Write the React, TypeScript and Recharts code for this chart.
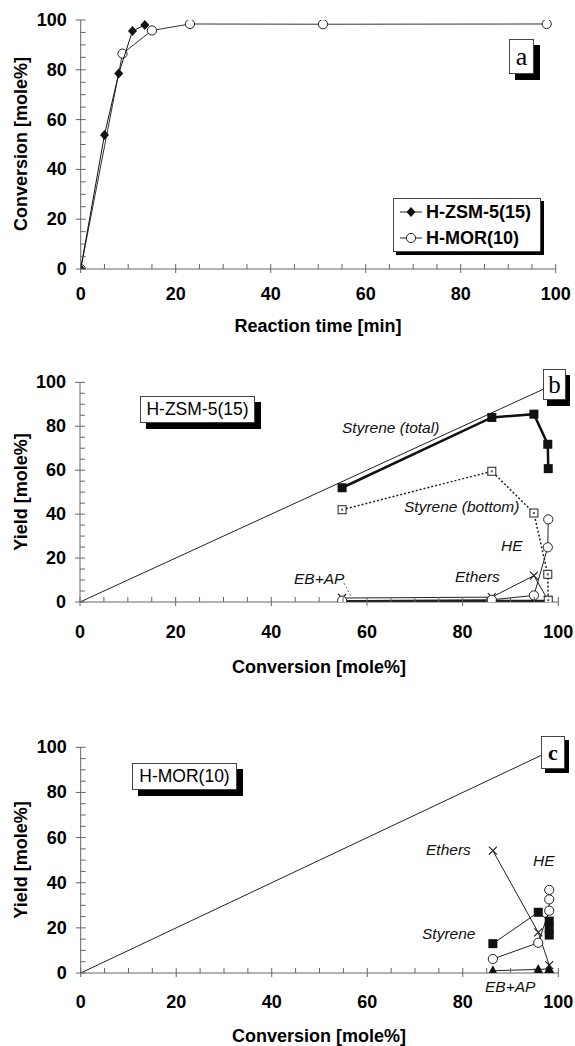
import React from "react";
import { ScatterChart, Scatter, XAxis, YAxis, ReferenceLine } from "recharts";

const SANS = '"Liberation Sans", Arial, Helvetica, sans-serif';
const SERIF = '"Liberation Serif", "Times New Roman", serif';
const AXIS = "#666";
const INK = "#111";

// (a) conversion vs reaction time
const timeZsm = [0, 5.0, 8.0, 10.9, 13.5];
const convZsm = [0, 53.8, 78.5, 95.6, 98.0];
const timeMor = [0, 8.8, 15.0, 23.0, 51.0, 98.1];
const convMor = [0, 86.5, 95.8, 98.4, 98.3, 98.4];

// (b) H-ZSM-5(15): yields vs conversion
const convB = [54.8, 86.1, 94.9, 97.8, 97.9];
const styreneTotalB = [52.0, 84.0, 85.5, 71.8, 60.7];
const styreneBottomB = [42.0, 59.5, 40.5, 12.6, 0.8];
const heB = [0.6, 1.0, 3.0, 24.9, 37.6];
const ethersB = [1.8, 2.2, 12.0, 1.0, 0.6];
const ebapB = [0.3, 0.4, 0.4, 0.5, 0.5];

// (c) H-MOR(10): yields vs conversion
const convC = [86.3, 95.8, 98.1, 98.1, 98.1];
const styreneC = [13.0, 26.9, 23.0, 19.8, 16.8];
const heC = [6.2, 13.4, 27.6, 32.6, 36.8];
const ethersC = [54.2, 18.0, 3.5];
const ebapC = [1.0, 1.6, 1.8];

const axisTicks = [0, 5, 10, 15, 20, 25, 30, 35, 40, 45, 50, 55, 60, 65, 70, 75, 80, 85, 90, 95, 100];
const diagonal = [0, 97];
const ebapLeaderX = [55.2, 56.7];
const ebapLeaderY = [8.6, 2.4];

const pts = (xs: number[], ys: number[]) => ys.map((y, i) => ({ x: xs[i], y }));

// markers
const Diamond = ({ cx, cy }: any) => (
  <path d={`M${cx},${cy - 5}L${cx + 4.5},${cy}L${cx},${cy + 5}L${cx - 4.5},${cy}Z`} fill={INK} />
);
const OpenCircle = ({ cx, cy }: any) => (
  <circle cx={cx} cy={cy} r={4.6} fill="#fff" stroke="#222" strokeWidth={1} />
);
const FilledSquare = ({ cx, cy }: any) => (
  <rect x={cx - 4.5} y={cy - 4.5} width={9} height={9} fill={INK} />
);
const OpenSquare = ({ cx, cy }: any) => (
  <g>
    <rect x={cx - 4} y={cy - 4} width={8} height={8} fill="#fff" stroke="#222" strokeWidth={1} />
    <rect x={cx - 1} y={cy - 1} width={2} height={2} fill="#555" />
  </g>
);
const Cross = ({ cx, cy }: any) => (
  <path
    d={`M${cx - 4},${cy - 4}L${cx + 4},${cy + 4}M${cx + 4},${cy - 4}L${cx - 4},${cy + 4}`}
    stroke="#222"
    strokeWidth={1.2}
  />
);
const Triangle = ({ cx, cy }: any) => (
  <path d={`M${cx},${cy - 5.5}L${cx + 5},${cy + 4}L${cx - 5},${cy + 4}Z`} fill={INK} />
);

// ticks: minor every 5, labels every 20
const XTick = ({ x, y, payload, gap }: any) => {
  const v = payload.value;
  const major = v % 20 === 0;
  return (
    <g>
      <line x1={x} x2={x} y1={y - 5} y2={major ? y + 4 : y} stroke={AXIS} />
      {major && (
        <text x={x} y={y + gap} textAnchor="middle" dominantBaseline="central" fill="#000"
          style={{ fontFamily: SANS, fontWeight: 700, fontSize: 18 }}>
          {v}
        </text>
      )}
    </g>
  );
};

const YTick = ({ x, y, payload }: any) => {
  const v = payload.value;
  const major = v % 20 === 0;
  return (
    <g>
      <line x1={major ? x - 5 : x} x2={x + 5} y1={y} y2={y} stroke={AXIS} />
      {major && (
        <text x={x - 14} y={y} textAnchor="end" dominantBaseline="central" fill="#000"
          style={{ fontFamily: SANS, fontWeight: 700, fontSize: 18 }}>
          {v}
        </text>
      )}
    </g>
  );
};

function Axes({ gap }: { gap: number }) {
  return [
    <XAxis key="x" dataKey="x" type="number" domain={[0, 100]} ticks={axisTicks} interval={0}
      tickSize={0} tickMargin={0} height={65} tick={<XTick gap={gap} />}
      axisLine={{ stroke: AXIS }} tickLine={false} allowDataOverflow />,
    <XAxis key="xt" xAxisId="top" orientation="top" type="number" domain={[0, 100]} height={0}
      tick={false} tickLine={false} axisLine={{ stroke: AXIS }} />,
    <YAxis key="y" dataKey="y" type="number" domain={[0, 100]} ticks={axisTicks} interval={0}
      tickSize={0} tickMargin={0} width={70} tick={<YTick />}
      axisLine={{ stroke: AXIS }} tickLine={false} allowDataOverflow />,
    <YAxis key="yr" yAxisId="right" orientation="right" type="number" domain={[0, 100]} width={0}
      tick={false} tickLine={false} axisLine={{ stroke: AXIS }} />,
  ];
}

function PanelA() {
  return (
    <div style={{ position: "absolute", left: 0, top: 0 }}>
      <ScatterChart width={575} height={340} margin={{ top: 20, right: 19.3, bottom: 6, left: 10.7 }}>
        {Axes({ gap: 25 })}
        <Scatter data={pts(timeMor, convMor)} shape={OpenCircle} line={{ stroke: "#333", strokeWidth: 1 }}
          lineType="joint" isAnimationActive={false} />
        <Scatter data={pts(timeZsm, convZsm)} shape={Diamond} line={{ stroke: INK, strokeWidth: 1 }}
          lineType="joint" isAnimationActive={false} />
      </ScatterChart>
    </div>
  );
}

function PanelB() {
  return (
    <div style={{ position: "absolute", left: 0, top: 340 }}>
      <ScatterChart width={575} height={340} margin={{ top: 42.3, right: 16.7, bottom: 13, left: 10 }}>
        {Axes({ gap: 30 })}
        <ReferenceLine segment={pts(diagonal, diagonal)} stroke="#222" strokeWidth={1} ifOverflow="visible" />
        <ReferenceLine segment={pts(ebapLeaderX, ebapLeaderY)} stroke="#666" strokeWidth={1}
          strokeDasharray="2 2" ifOverflow="visible" />
        <Scatter data={pts(convB, ebapB)} shape={Triangle} line={{ stroke: "#222", strokeWidth: 2.5 }}
          lineType="joint" isAnimationActive={false} />
        <Scatter data={pts(convB, ethersB)} shape={Cross} line={{ stroke: "#222", strokeWidth: 1 }}
          lineType="joint" isAnimationActive={false} />
        <Scatter data={pts(convB, heB)} shape={OpenCircle} line={{ stroke: "#222", strokeWidth: 1 }}
          lineType="joint" isAnimationActive={false} />
        <Scatter data={pts(convB, styreneBottomB)} shape={OpenSquare}
          line={{ stroke: "#222", strokeWidth: 1.5, strokeDasharray: "2 2" }}
          lineType="joint" isAnimationActive={false} />
        <Scatter data={pts(convB, styreneTotalB)} shape={FilledSquare} line={{ stroke: INK, strokeWidth: 2.5 }}
          lineType="joint" isAnimationActive={false} />
      </ScatterChart>
    </div>
  );
}

function PanelC() {
  return (
    <div style={{ position: "absolute", left: 0, top: 700 }}>
      <ScatterChart width={575} height={346} margin={{ top: 47.3, right: 16.7, bottom: 8, left: 10.7 }}>
        {Axes({ gap: 29 })}
        <ReferenceLine segment={pts(diagonal, diagonal)} stroke="#222" strokeWidth={1} ifOverflow="visible" />
        <Scatter data={pts(convC, ebapC)} shape={Triangle} line={{ stroke: "#222", strokeWidth: 1 }}
          lineType="joint" isAnimationActive={false} />
        <Scatter data={pts(convC, ethersC)} shape={Cross} line={{ stroke: "#222", strokeWidth: 1 }}
          lineType="joint" isAnimationActive={false} />
        <Scatter data={pts(convC, heC)} shape={OpenCircle} line={{ stroke: "#222", strokeWidth: 1 }}
          lineType="joint" isAnimationActive={false} />
        <Scatter data={pts(convC, styreneC)} shape={FilledSquare} line={{ stroke: "#222", strokeWidth: 1 }}
          lineType="joint" isAnimationActive={false} />
      </ScatterChart>
    </div>
  );
}

const abs = (left: number, top: number): React.CSSProperties => ({ position: "absolute", left, top });

const Title = ({ x, y, text, rotate }: { x: number; y: number; text: string; rotate?: boolean }) => (
  <div style={{
    ...abs(x, y), transform: `translate(-50%, -50%)${rotate ? " rotate(-90deg)" : ""}`,
    whiteSpace: "nowrap", font: `bold 18px ${SANS}`, lineHeight: 1, color: "#000",
  }}>{text}</div>
);

const Note = ({ x, y, text }: { x: number; y: number; text: string }) => (
  <div style={{
    ...abs(x, y), transform: "translateY(-50%)", whiteSpace: "nowrap",
    font: `italic 15.5px ${SANS}`, lineHeight: 1, color: "#111",
  }}>{text}</div>
);

const Tag = ({ x, y, w, h, shadow, children, style }: any) => (
  <div style={{
    ...abs(x, y), width: w, height: h, boxSizing: "border-box", background: "#fff",
    border: "1px solid #444", boxShadow: shadow, display: "flex", alignItems: "center",
    justifyContent: "center", lineHeight: 1, ...style,
  }}>{children}</div>
);

const LegendRow = ({ marker, label }: { marker: React.ReactNode; label: string }) => (
  <div style={{ display: "flex", alignItems: "center", height: 27 }}>
    <svg width={32} height={14} style={{ flex: "none" }}>
      <line x1={6} x2={28} y1={7} y2={7} stroke="#222" strokeWidth={1} />
      {marker}
    </svg>
    <span style={{ font: `bold 18px ${SANS}`, whiteSpace: "nowrap" }}>{label}</span>
  </div>
);

export default function App() {
  return (
    <div style={{ position: "absolute", left: 0, top: 0, width: 575, height: 1046, background: "#fff", overflow: "hidden" }}>
      <PanelA />
      <PanelB />
      <PanelC />

      <Title x={21} y={144} text="Conversion [mole%]" rotate />
      <Title x={318} y={326} text="Reaction time [min]" />
      <Title x={21} y={492} text="Yield [mole%]" rotate />
      <Title x={319} y={667} text="Conversion [mole%]" />
      <Title x={21} y={860} text="Yield [mole%]" rotate />
      <Title x={319} y={1036} text="Conversion [mole%]" />

      {/* panel a */}
      <Tag x={509} y={39} w={25} h={35} shadow="6px 6px 0 #000" style={{ font: `26px ${SERIF}` }}>a</Tag>
      <div style={{
        ...abs(393, 198), width: 148, height: 54, boxSizing: "border-box", background: "#fff",
        border: "1px solid #444", boxShadow: "3px 3px 0 #000", padding: "0 0 0 0",
        display: "flex", flexDirection: "column", justifyContent: "center",
      }}>
        <LegendRow marker={<Diamond cx={17} cy={7} />} label="H-ZSM-5(15)" />
        <LegendRow marker={<OpenCircle cx={17} cy={7} />} label="H-MOR(10)" />
      </div>

      {/* panel b */}
      <Tag x={543} y={369} w={23} h={31} shadow="4px 6px 0 #000" style={{ font: `25px ${SERIF}` }}>b</Tag>
      <Tag x={140} y={396} w={115} h={27} shadow="6px 6px 0 #000" style={{ font: `17.5px ${SANS}` }}>H-ZSM-5(15)</Tag>
      <Note x={342} y={428} text="Styrene (total)" />
      <Note x={404} y={507} text="Styrene (bottom)" />
      <Note x={501} y={546} text="HE" />
      <Note x={455} y={577} text="Ethers" />
      <Note x={294} y={579} text="EB+AP" />

      {/* panel c */}
      <Tag x={541} y={736} w={24} h={33} shadow="4px 4px 0 #000" style={{ font: `bold 22px ${SERIF}` }}>c</Tag>
      <Tag x={132} y={763} w={105} h={27} shadow="6px 6px 0 #000" style={{ font: `17.5px ${SANS}` }}>H-MOR(10)</Tag>
      <Note x={426} y={850} text="Ethers" />
      <Note x={533} y={861} text="HE" />
      <Note x={422} y={934} text="Styrene" />
      <Note x={485} y={987} text="EB+AP" />
    </div>
  );
}
